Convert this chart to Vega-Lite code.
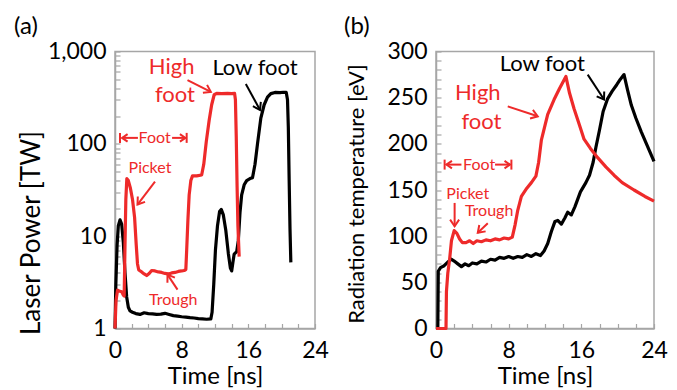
{
  "$schema": "https://vega.github.io/schema/vega-lite/v6.json",
  "padding": {"left": 13, "top": 13.5, "right": 0, "bottom": 2},
  "background": "white",
  "datasets": {
    "pa": [
      {"series":"Low foot","t":0,"v":1},{"series":"Low foot","t":0.1,"v":3},{"series":"Low foot","t":0.25,"v":8},{"series":"Low foot","t":0.4,"v":13},{"series":"Low foot","t":0.6,"v":15},{"series":"Low foot","t":0.8,"v":13.5},{"series":"Low foot","t":1.0,"v":8.5},{"series":"Low foot","t":1.2,"v":4},{"series":"Low foot","t":1.4,"v":2.2},{"series":"Low foot","t":1.6,"v":1.7},{"series":"Low foot","t":1.8,"v":1.55},{"series":"Low foot","t":2.1,"v":1.5},{"series":"Low foot","t":2.5,"v":1.45},{"series":"Low foot","t":3.0,"v":1.42},{"series":"Low foot","t":3.5,"v":1.48},{"series":"Low foot","t":4.0,"v":1.45},{"series":"Low foot","t":4.5,"v":1.44},{"series":"Low foot","t":5.0,"v":1.42},{"series":"Low foot","t":5.5,"v":1.43},{"series":"Low foot","t":6.0,"v":1.46},{"series":"Low foot","t":6.5,"v":1.42},{"series":"Low foot","t":7.0,"v":1.38},{"series":"Low foot","t":7.5,"v":1.36},{"series":"Low foot","t":8.0,"v":1.34},{"series":"Low foot","t":8.5,"v":1.33},{"series":"Low foot","t":9.0,"v":1.31},{"series":"Low foot","t":9.5,"v":1.3},{"series":"Low foot","t":10.0,"v":1.28},{"series":"Low foot","t":10.5,"v":1.27},{"series":"Low foot","t":11.0,"v":1.26},{"series":"Low foot","t":11.5,"v":1.27},{"series":"Low foot","t":11.65,"v":1.5},{"series":"Low foot","t":11.85,"v":3},{"series":"Low foot","t":12.05,"v":7},{"series":"Low foot","t":12.3,"v":13},{"series":"Low foot","t":12.55,"v":18.5},{"series":"Low foot","t":12.75,"v":19.5},{"series":"Low foot","t":13.0,"v":17},{"series":"Low foot","t":13.3,"v":11.5},{"series":"Low foot","t":13.6,"v":6.5},{"series":"Low foot","t":13.85,"v":4.5},{"series":"Low foot","t":14.0,"v":4.2},{"series":"Low foot","t":14.15,"v":5.2},{"series":"Low foot","t":14.3,"v":6.4},{"series":"Low foot","t":14.6,"v":6.8},{"series":"Low foot","t":14.8,"v":9},{"series":"Low foot","t":15.0,"v":18},{"series":"Low foot","t":15.2,"v":28},{"series":"Low foot","t":15.5,"v":36},{"series":"Low foot","t":15.8,"v":40},{"series":"Low foot","t":16.2,"v":42},{"series":"Low foot","t":16.5,"v":43},{"series":"Low foot","t":16.8,"v":60},{"series":"Low foot","t":17.1,"v":100},{"series":"Low foot","t":17.5,"v":190},{"series":"Low foot","t":17.9,"v":265},{"series":"Low foot","t":18.3,"v":320},{"series":"Low foot","t":18.7,"v":350},{"series":"Low foot","t":19.2,"v":360},{"series":"Low foot","t":19.8,"v":358},{"series":"Low foot","t":20.2,"v":362},{"series":"Low foot","t":20.55,"v":360},{"series":"Low foot","t":20.7,"v":300},{"series":"Low foot","t":20.8,"v":150},{"series":"Low foot","t":20.9,"v":40},{"series":"Low foot","t":21.0,"v":12},{"series":"Low foot","t":21.1,"v":5.2},
      {"series":"High foot","t":0,"v":1},{"series":"High foot","t":0.12,"v":2},{"series":"High foot","t":0.3,"v":2.6},{"series":"High foot","t":0.5,"v":2.55},{"series":"High foot","t":0.8,"v":2.5},{"series":"High foot","t":1.0,"v":2.3},{"series":"High foot","t":1.1,"v":2.25},{"series":"High foot","t":1.2,"v":8},{"series":"High foot","t":1.3,"v":25},{"series":"High foot","t":1.42,"v":42},{"series":"High foot","t":1.6,"v":40},{"series":"High foot","t":1.85,"v":33},{"series":"High foot","t":2.1,"v":25},{"series":"High foot","t":2.35,"v":16},{"series":"High foot","t":2.55,"v":8},{"series":"High foot","t":2.7,"v":5},{"series":"High foot","t":2.85,"v":4.3},{"series":"High foot","t":3.2,"v":4.1},{"series":"High foot","t":3.5,"v":3.9},{"series":"High foot","t":3.8,"v":3.75},{"series":"High foot","t":4.1,"v":3.95},{"series":"High foot","t":4.4,"v":4.25},{"series":"High foot","t":4.8,"v":4.2},{"series":"High foot","t":5.2,"v":4.1},{"series":"High foot","t":5.6,"v":4.05},{"series":"High foot","t":6.0,"v":3.95},{"series":"High foot","t":6.4,"v":3.9},{"series":"High foot","t":6.8,"v":4.0},{"series":"High foot","t":7.2,"v":4.05},{"series":"High foot","t":7.6,"v":4.15},{"series":"High foot","t":8.0,"v":4.2},{"series":"High foot","t":8.3,"v":4.25},{"series":"High foot","t":8.5,"v":4.35},{"series":"High foot","t":8.6,"v":7},{"series":"High foot","t":8.75,"v":15},{"series":"High foot","t":8.9,"v":28},{"series":"High foot","t":9.1,"v":40},{"series":"High foot","t":9.3,"v":45},{"series":"High foot","t":9.8,"v":45},{"series":"High foot","t":10.4,"v":46},{"series":"High foot","t":10.65,"v":60},{"series":"High foot","t":10.95,"v":105},{"series":"High foot","t":11.3,"v":180},{"series":"High foot","t":11.6,"v":265},{"series":"High foot","t":11.9,"v":340},{"series":"High foot","t":12.2,"v":352},{"series":"High foot","t":12.8,"v":350},{"series":"High foot","t":13.5,"v":352},{"series":"High foot","t":14.0,"v":350},{"series":"High foot","t":14.35,"v":352},{"series":"High foot","t":14.45,"v":300},{"series":"High foot","t":14.55,"v":120},{"series":"High foot","t":14.65,"v":35},{"series":"High foot","t":14.75,"v":13},{"series":"High foot","t":14.9,"v":6}
    ],
    "pb": [
      {"series":"Low foot","t":0,"v":0},{"series":"Low foot","t":0.2,"v":0},{"series":"Low foot","t":0.25,"v":62},{"series":"Low foot","t":0.5,"v":66},{"series":"Low foot","t":0.9,"v":68},{"series":"Low foot","t":1.3,"v":72},{"series":"Low foot","t":1.7,"v":75},{"series":"Low foot","t":2.0,"v":73},{"series":"Low foot","t":2.4,"v":70},{"series":"Low foot","t":2.8,"v":67},{"series":"Low foot","t":3.2,"v":70},{"series":"Low foot","t":3.6,"v":68},{"series":"Low foot","t":4.0,"v":71},{"series":"Low foot","t":4.5,"v":70},{"series":"Low foot","t":5.0,"v":73},{"series":"Low foot","t":5.5,"v":72},{"series":"Low foot","t":6.0,"v":75},{"series":"Low foot","t":6.5,"v":74},{"series":"Low foot","t":7.0,"v":77},{"series":"Low foot","t":7.5,"v":76},{"series":"Low foot","t":8.0,"v":78},{"series":"Low foot","t":8.5,"v":76},{"series":"Low foot","t":9.0,"v":78},{"series":"Low foot","t":9.5,"v":77},{"series":"Low foot","t":10.0,"v":80},{"series":"Low foot","t":10.5,"v":78},{"series":"Low foot","t":11.0,"v":81},{"series":"Low foot","t":11.5,"v":79},{"series":"Low foot","t":11.9,"v":84},{"series":"Low foot","t":12.3,"v":92},{"series":"Low foot","t":12.7,"v":105},{"series":"Low foot","t":13.1,"v":116},{"series":"Low foot","t":13.4,"v":117},{"series":"Low foot","t":13.8,"v":113},{"series":"Low foot","t":14.2,"v":120},{"series":"Low foot","t":14.5,"v":126},{"series":"Low foot","t":14.9,"v":123},{"series":"Low foot","t":15.3,"v":132},{"series":"Low foot","t":15.9,"v":148},{"series":"Low foot","t":16.5,"v":158},{"series":"Low foot","t":16.9,"v":166},{"series":"Low foot","t":17.3,"v":180},{"series":"Low foot","t":17.6,"v":196},{"series":"Low foot","t":18.0,"v":215},{"series":"Low foot","t":18.4,"v":235},{"series":"Low foot","t":18.9,"v":249},{"series":"Low foot","t":19.4,"v":257},{"series":"Low foot","t":19.9,"v":264},{"series":"Low foot","t":20.3,"v":270},{"series":"Low foot","t":20.7,"v":275},{"series":"Low foot","t":21.1,"v":258},{"series":"Low foot","t":21.5,"v":242},{"series":"Low foot","t":22.0,"v":228},{"series":"Low foot","t":22.6,"v":213},{"series":"Low foot","t":23.3,"v":197},{"series":"Low foot","t":24.0,"v":181},
      {"series":"High foot","t":0,"v":0},{"series":"High foot","t":1.1,"v":0},{"series":"High foot","t":1.15,"v":40},{"series":"High foot","t":1.3,"v":60},{"series":"High foot","t":1.5,"v":75},{"series":"High foot","t":1.7,"v":95},{"series":"High foot","t":2.0,"v":106},{"series":"High foot","t":2.3,"v":103},{"series":"High foot","t":2.6,"v":97},{"series":"High foot","t":2.9,"v":93},{"series":"High foot","t":3.3,"v":93},{"series":"High foot","t":3.7,"v":95},{"series":"High foot","t":4.1,"v":92},{"series":"High foot","t":4.5,"v":95},{"series":"High foot","t":5.0,"v":94},{"series":"High foot","t":5.5,"v":96},{"series":"High foot","t":6.0,"v":95},{"series":"High foot","t":6.5,"v":97},{"series":"High foot","t":7.0,"v":96},{"series":"High foot","t":7.5,"v":98},{"series":"High foot","t":8.0,"v":97},{"series":"High foot","t":8.4,"v":99},{"series":"High foot","t":8.7,"v":112},{"series":"High foot","t":9.0,"v":128},{"series":"High foot","t":9.4,"v":143},{"series":"High foot","t":10.0,"v":152},{"series":"High foot","t":10.5,"v":158},{"series":"High foot","t":11.0,"v":165},{"series":"High foot","t":11.3,"v":180},{"series":"High foot","t":11.6,"v":204},{"series":"High foot","t":12.0,"v":220},{"series":"High foot","t":12.3,"v":232},{"series":"High foot","t":13.0,"v":248},{"series":"High foot","t":13.6,"v":260},{"series":"High foot","t":14.3,"v":273},{"series":"High foot","t":14.7,"v":255},{"series":"High foot","t":15.2,"v":238},{"series":"High foot","t":15.8,"v":220},{"series":"High foot","t":16.3,"v":205},{"series":"High foot","t":17.0,"v":195},{"series":"High foot","t":17.8,"v":185},{"series":"High foot","t":18.7,"v":175},{"series":"High foot","t":19.6,"v":166},{"series":"High foot","t":20.5,"v":158},{"series":"High foot","t":21.8,"v":150},{"series":"High foot","t":23.0,"v":143},{"series":"High foot","t":24.0,"v":138}
    ],
    "ta": [
      {"series":"High foot","role":"curve","label":"High","t":6.8,"v":680},
      {"series":"High foot","role":"curve","label":"foot","t":7.2,"v":340},
      {"series":"Low foot","role":"curve","label":"Low foot","t":16.8,"v":663},
      {"series":"High foot","role":"feature","label":"Foot","t":4.75,"v":116},
      {"series":"High foot","role":"feature","label":"Picket","t":4.2,"v":55},
      {"series":"High foot","role":"feature","label":"Trough","t":7.0,"v":2.05}
    ],
    "tb": [
      {"series":"Low foot","role":"curve","label":"Low foot","t":11.7,"v":286},
      {"series":"High foot","role":"curve","label":"High","t":4.6,"v":255},
      {"series":"High foot","role":"curve","label":"foot","t":5.0,"v":224},
      {"series":"High foot","role":"feature","label":"Foot","t":4.75,"v":177.5},
      {"series":"High foot","role":"feature","label":"Picket","t":3.5,"v":145.5},
      {"series":"High foot","role":"feature","label":"Trough","t":5.85,"v":127}
    ],
    "aa": [
      {"id":"a1","series":"High foot","t":11.5,"v":365,"t2":8.7,"v2":491},
      {"id":"a2","series":"Low foot","t":17.4,"v":233,"t2":15.7,"v2":445},
      {"id":"a3","series":"High foot","t":2.7,"v":22,"t2":4.8,"v2":39},
      {"id":"a4","series":"High foot","t":6.3,"v":3.83,"t2":7.5,"v2":2.64},
      {"id":"a5","series":"High foot","t":0.85,"v":116,"t2":2.75,"v2":116},
      {"id":"a6","series":"High foot","t":8.45,"v":116,"t2":6.85,"v2":116}
    ],
    "ab": [
      {"id":"b1","series":"Low foot","t":18.5,"v":248,"t2":16.7,"v2":275},
      {"id":"b2","series":"High foot","t":11.2,"v":229.8,"t2":7.9,"v2":240.6},
      {"id":"b3","series":"High foot","t":2.05,"v":110.7,"t2":2.05,"v2":136},
      {"id":"b4","series":"High foot","t":4.6,"v":103.6,"t2":5.7,"v2":114},
      {"id":"b5","series":"High foot","t":1.15,"v":177.5,"t2":2.8,"v2":177.5},
      {"id":"b6","series":"High foot","t":8.15,"v":177.5,"t2":6.5,"v2":177.5}
    ],
    "ca": [
      {"series":"High foot","t":0.6,"v":116},
      {"series":"High foot","t":8.6,"v":116}
    ],
    "cb": [
      {"series":"High foot","t":0.95,"v":177.5},
      {"series":"High foot","t":8.3,"v":177.5}
    ]
  },
  "hconcat": [
    {
      "width": 200,
      "height": 277,
      "title": {"text": "(a)", "anchor": "start", "frame": "group", "dx": -101, "offset": -17, "baseline": "alphabetic", "fontSize": 24, "fontWeight": "normal", "font": "Lato", "color": "#000000"},
      "encoding": {
        "x": {"field": "t", "type": "quantitative", "scale": {"domain": [0, 24], "nice": false, "zero": false},
              "axis": {"title": "Time [ns]", "titleFont": "Lato", "titleFontSize": 24, "titleFontWeight": "normal", "values": [0,2,4,6,8,10,12,14,16,18,20,22,24], "labelExpr": "datum.value % 8 === 0 ? format(datum.value, 'd') : ''", "labelBaseline": "middle", "labelPadding": 26.5, "labelOverlap": false, "labelFlush": false, "titleY": 48, "titleBaseline": "middle"}},
        "y": {"field": "v", "type": "quantitative", "scale": {"type": "log", "domain": [1, 1000], "nice": false},
              "axis": {"title": "Laser Power [TW]", "titleFont": "Lato", "titleFontSize": 26, "titleFontWeight": "normal", "values": [1,2,3,4,5,6,7,8,9,10,20,30,40,50,60,70,80,90,100,200,300,400,500,600,700,800,900,1000], "labelExpr": "indexof([1,10,100,1000], datum.value) >= 0 ? format(datum.value, ',') : ''", "labelBaseline": "middle", "labelPadding": 14, "labelOverlap": false, "labelFlush": false, "titleX": -84, "titleY": 181, "titleBaseline": "middle"}},
        "color": {"field": "series", "type": "nominal", "scale": {"domain": ["High foot", "Low foot"], "range": ["#ee2a2a", "#000000"]}, "legend": null}
      },
      "layer": [
        {"data": {"name": "pa"}, "mark": {"type": "line", "strokeWidth": 3.2, "strokeJoin": "round"}},
        {"data": {"name": "ta"}, "transform": [{"filter": "datum.role === 'curve'"}], "mark": {"type": "text", "font": "Lato", "fontSize": 22, "baseline": "middle", "align": "center"}, "encoding": {"text": {"field": "label"}}},
        {"data": {"name": "ta"}, "transform": [{"filter": "datum.role === 'feature'"}], "mark": {"type": "text", "font": "Lato", "fontSize": 16, "baseline": "middle", "align": "center"}, "encoding": {"text": {"field": "label"}}},
        {"data": {"name": "aa"}, "mark": {"type": "rule", "strokeWidth": 2}, "encoding": {"x2": {"field": "t2"}, "y2": {"field": "v2"}}},
        {"data": {"name": "aa"}, "transform": [{"filter": "datum.id === 'a1'"}], "mark": {"type": "point", "shape": "M-0.75,1.1L0,0L0.75,1.1", "size": 144, "filled": false, "strokeWidth": 2, "opacity": 1, "angle": 117.6}},
        {"data": {"name": "aa"}, "transform": [{"filter": "datum.id === 'a2'"}], "mark": {"type": "point", "shape": "M-0.75,1.1L0,0L0.75,1.1", "size": 144, "filled": false, "strokeWidth": 2, "opacity": 1, "angle": 151.7}},
        {"data": {"name": "aa"}, "transform": [{"filter": "datum.id === 'a3'"}], "mark": {"type": "point", "shape": "M-0.75,1.1L0,0L0.75,1.1", "size": 144, "filled": false, "strokeWidth": 2, "opacity": 1, "angle": 216.5}},
        {"data": {"name": "aa"}, "transform": [{"filter": "datum.id === 'a4'"}], "mark": {"type": "point", "shape": "M-0.75,1.1L0,0L0.75,1.1", "size": 144, "filled": false, "strokeWidth": 2, "opacity": 1, "angle": 326.3}},
        {"data": {"name": "aa"}, "transform": [{"filter": "datum.id === 'a5'"}], "mark": {"type": "point", "shape": "M-0.75,1.1L0,0L0.75,1.1", "size": 100, "filled": false, "strokeWidth": 2, "opacity": 1, "angle": 270}},
        {"data": {"name": "aa"}, "transform": [{"filter": "datum.id === 'a6'"}], "mark": {"type": "point", "shape": "M-0.75,1.1L0,0L0.75,1.1", "size": 100, "filled": false, "strokeWidth": 2, "opacity": 1, "angle": 90}},
        {"data": {"name": "ca"}, "mark": {"type": "point", "shape": "M0,-1L0,1", "size": 100, "filled": false, "strokeWidth": 2, "opacity": 1}}
      ]
    },
    {
      "width": 218,
      "height": 277,
      "title": {"text": "(b)", "anchor": "start", "frame": "group", "dx": -92, "offset": -17, "baseline": "alphabetic", "fontSize": 24, "fontWeight": "normal", "font": "Lato", "color": "#000000"},
      "encoding": {
        "x": {"field": "t", "type": "quantitative", "scale": {"domain": [0, 24], "nice": false, "zero": false},
              "axis": {"title": "Time [ns]", "titleFont": "Lato", "titleFontSize": 24, "titleFontWeight": "normal", "values": [0,2,4,6,8,10,12,14,16,18,20,22,24], "labelExpr": "datum.value % 8 === 0 ? format(datum.value, 'd') : ''", "labelBaseline": "middle", "labelPadding": 26.5, "labelOverlap": false, "labelFlush": false, "titleY": 48, "titleBaseline": "middle"}},
        "y": {"field": "v", "type": "quantitative", "scale": {"domain": [0, 300], "nice": false},
              "axis": {"title": "Radiation temperature [eV]", "titleFont": "Lato", "titleFontSize": 22, "titleFontWeight": "normal", "values": [0,10,20,30,40,50,60,70,80,90,100,110,120,130,140,150,160,170,180,190,200,210,220,230,240,250,260,270,280,290,300], "labelExpr": "datum.value % 50 === 0 ? format(datum.value, 'd') : ''", "labelBaseline": "middle", "labelPadding": 14, "labelOverlap": false, "labelFlush": false, "titleX": -80, "titleY": 142, "titleBaseline": "middle"}},
        "color": {"field": "series", "type": "nominal", "scale": {"domain": ["High foot", "Low foot"], "range": ["#ee2a2a", "#000000"]}, "legend": null}
      },
      "layer": [
        {"data": {"name": "pb"}, "mark": {"type": "line", "strokeWidth": 3.2, "strokeJoin": "round"}},
        {"data": {"name": "tb"}, "transform": [{"filter": "datum.role === 'curve'"}], "mark": {"type": "text", "font": "Lato", "fontSize": 22, "baseline": "middle", "align": "center"}, "encoding": {"text": {"field": "label"}}},
        {"data": {"name": "tb"}, "transform": [{"filter": "datum.role === 'feature'"}], "mark": {"type": "text", "font": "Lato", "fontSize": 16, "baseline": "middle", "align": "center"}, "encoding": {"text": {"field": "label"}}},
        {"data": {"name": "ab"}, "mark": {"type": "rule", "strokeWidth": 2}, "encoding": {"x2": {"field": "t2"}, "y2": {"field": "v2"}}},
        {"data": {"name": "ab"}, "transform": [{"filter": "datum.id === 'b1'"}], "mark": {"type": "point", "shape": "M-0.75,1.1L0,0L0.75,1.1", "size": 144, "filled": false, "strokeWidth": 2, "opacity": 1, "angle": 146.9}},
        {"data": {"name": "ab"}, "transform": [{"filter": "datum.id === 'b2'"}], "mark": {"type": "point", "shape": "M-0.75,1.1L0,0L0.75,1.1", "size": 144, "filled": false, "strokeWidth": 2, "opacity": 1, "angle": 108.4}},
        {"data": {"name": "ab"}, "transform": [{"filter": "datum.id === 'b3'"}], "mark": {"type": "point", "shape": "M-0.75,1.1L0,0L0.75,1.1", "size": 144, "filled": false, "strokeWidth": 2, "opacity": 1, "angle": 180}},
        {"data": {"name": "ab"}, "transform": [{"filter": "datum.id === 'b4'"}], "mark": {"type": "point", "shape": "M-0.75,1.1L0,0L0.75,1.1", "size": 144, "filled": false, "strokeWidth": 2, "opacity": 1, "angle": 225}},
        {"data": {"name": "ab"}, "transform": [{"filter": "datum.id === 'b5'"}], "mark": {"type": "point", "shape": "M-0.75,1.1L0,0L0.75,1.1", "size": 100, "filled": false, "strokeWidth": 2, "opacity": 1, "angle": 270}},
        {"data": {"name": "ab"}, "transform": [{"filter": "datum.id === 'b6'"}], "mark": {"type": "point", "shape": "M-0.75,1.1L0,0L0.75,1.1", "size": 100, "filled": false, "strokeWidth": 2, "opacity": 1, "angle": 90}},
        {"data": {"name": "cb"}, "mark": {"type": "point", "shape": "M0,-1L0,1", "size": 100, "filled": false, "strokeWidth": 2, "opacity": 1}}
      ]
    }
  ],
  "spacing": 121,
  "bounds": "flush",
  "resolve": {"scale": {"x": "independent", "y": "independent", "color": "shared"}},
  "config": {
    "font": "Lato",
    "axis": {"domainColor": "#a6a6a6", "domainWidth": 1.5, "tickColor": "#a6a6a6", "tickWidth": 1.2, "tickSize": -5, "grid": false, "labelFont": "Lato", "labelFontSize": 23, "labelColor": "#000000", "titleFont": "Lato", "titleFontSize": 22, "titleFontWeight": "normal", "titleColor": "#000000"},
    "view": {"stroke": "#a6a6a6", "strokeWidth": 1.5}
  }
}
